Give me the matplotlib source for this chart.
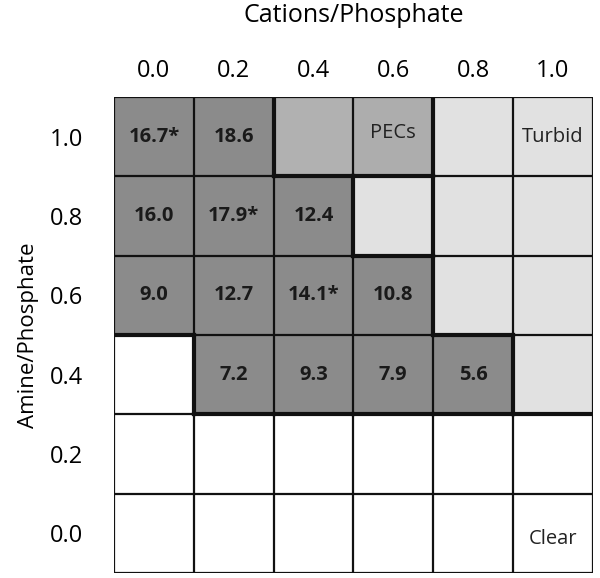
import matplotlib
matplotlib.use("Agg")
import matplotlib.pyplot as plt
import numpy as np
from matplotlib.colors import ListedColormap

plt.rcParams['font.family'] = ['Open Sans', 'DejaVu Sans']

# Data
cations = ["0.0", "0.2", "0.4", "0.6", "0.8", "1.0"]
amines = ["1.0", "0.8", "0.6", "0.4", "0.2", "0.0"]  # top to bottom

# category per cell: 0 clear, 1 turbid, 2 PEC region (no label), 3 PEC, 4 measured
categories = [
    [4, 4, 2, 3, 1, 1],
    [4, 4, 4, 1, 1, 1],
    [4, 4, 4, 4, 1, 1],
    [0, 4, 4, 4, 4, 1],
    [0, 0, 0, 0, 0, 0],
    [0, 0, 0, 0, 0, 0],
]
values = [
    [16.7, 18.6, None, None, None, None],
    [16.0, 17.9, 12.4, None, None, None],
    [9.0, 12.7, 14.1, 10.8, None, None],
    [None, 7.2, 9.3, 7.9, 5.6, None],
    [None, None, None, None, None, None],
    [None, None, None, None, None, None],
]
starred = [(0, 0), (1, 1), (2, 2)]
region_labels = {(0, 3): "PECs", (0, 5): "Turbid", (5, 5): "Clear"}

colors = ["#ffffff", "#e1e1e1", "#b1b1b1", "#adadad", "#8b8b8b"]
group = {0: 0, 1: 1, 2: 2, 3: 2, 4: 4}

fig = plt.figure(figsize=(6.0, 5.78), dpi=100)
ax = fig.add_axes([0.19, 0.009, 0.798, 0.823])

cat = np.array(categories)
nr, nc = cat.shape
ax.pcolormesh(np.arange(nc + 1), np.arange(nr + 1), cat,
              cmap=ListedColormap(colors), vmin=-0.5, vmax=4.5)
ax.set_xlim(0, nc)
ax.set_ylim(nr, 0)

# thin grid lines
for i in range(nr + 1):
    ax.plot([0, nc], [i, i], color="#111111", lw=1.6, solid_capstyle="projecting")
for j in range(nc + 1):
    ax.plot([j, j], [0, nr], color="#111111", lw=1.6, solid_capstyle="projecting")

# thick boundaries between differing regions
g = np.vectorize(group.get)(cat)
thick = dict(color="#111111", lw=3.0, solid_capstyle="projecting")
for r in range(nr):
    for c in range(nc - 1):
        if g[r, c] != g[r, c + 1]:
            ax.plot([c + 1, c + 1], [r, r + 1], **thick)
for r in range(nr - 1):
    for c in range(nc):
        if g[r, c] != g[r + 1, c]:
            ax.plot([c, c + 1], [r + 1, r + 1], **thick)
# the turbid column edge right of the PEC column is also drawn heavy
ax.plot([4, 4], [1, 2], **thick)

for r in range(nr):
    for c in range(nc):
        v = values[r][c]
        if v is not None:
            s = f"{v:.1f}" + ("*" if (r, c) in starred else "")
            ax.text(c + 0.5, r + 0.5, s, ha="center", va="center",
                    fontsize=14.5, fontweight="bold", color="#1a1a1a")

for (r, c), s in region_labels.items():
    dy = {"PECs": -0.05, "Turbid": 0.0, "Clear": 0.08}[s]
    ax.text(c + 0.5, r + 0.5 + dy, s, ha="center", va="center",
            fontsize=14.5, color="#222222")

ax.xaxis.tick_top()
ax.set_xticks(np.arange(nc) + 0.5)
ax.set_xticklabels(cations)
ax.set_yticks(np.arange(nr) + 0.5)
ax.set_yticklabels(amines)
ax.tick_params(length=0, labelsize=17, pad=10)
ax.tick_params(axis="y", pad=22)
for sp in ax.spines.values():
    sp.set_visible(False)

ax.set_xlabel("Cations/Phosphate", fontsize=18, labelpad=27)
ax.xaxis.set_label_position("top")
ax.set_ylabel("Amine/Phosphate", fontsize=16, labelpad=8)

fig.savefig("out.png", dpi=100)
